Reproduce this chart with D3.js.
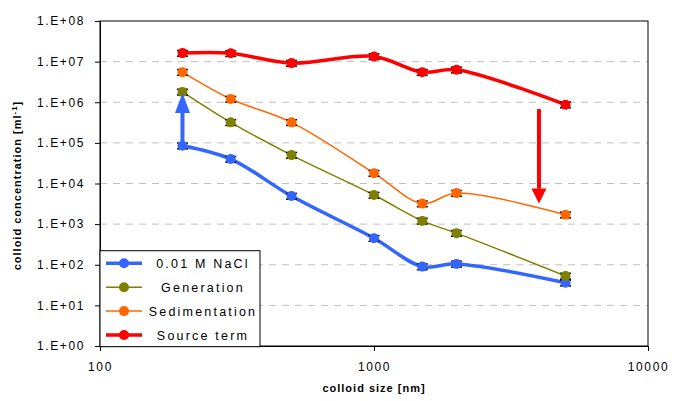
<!DOCTYPE html>
<html>
<head>
<meta charset="utf-8">
<script src="https://cdn.jsdelivr.net/npm/d3@7"></script>
<style>
  body { margin: 0; background: #fff; }
  svg { display: block; font-family: "Liberation Sans", Arial, sans-serif; }
  .tick-label { font-size: 12px; letter-spacing: 1.6px; fill: #000; }
  .axis-title { font-size: 11px; font-weight: bold; letter-spacing: 1px; fill: #000; }
  .legend-label { font-size: 12.5px; letter-spacing: 2.2px; fill: #000; }
</style>
</head>
<body>
<svg id="chart" width="673" height="401"></svg>
<script>
// colloid sizes [nm]
const sizes = [200, 300, 500, 1000, 1500, 2000, 5000];

// colloid concentration [ml-1] for each series
const nacl = [8.5e4, 4.0e4, 4.9e3, 4.5e2, 90, 105, 36];
const generation = [1.8e6, 3.2e5, 5.0e4, 5.2e3, 1.2e3, 6.0e2, 53];
const sedimentation = [5.5e6, 1.2e6, 3.2e5, 1.8e4, 3.2e3, 5.8e3, 1.7e3];
const sourceTerm = [1.62e7, 1.6e7, 9.2e6, 1.34e7, 5.5e6, 6.3e6, 8.7e5];

const seriesNames = ["0.01 M NaCl", "Generation", "Sedimentation", "Source term"];
const seriesColors = ["#3366ff", "#808000", "#ff6600", "#ff0000"];
const seriesWidths = [3.5, 1.5, 1.5, 3.5];

// relative size of the error bars
const errFrac = 0.16;

const xTicks = [100, 1000, 10000];
const yTicks = [1e0, 1e1, 1e2, 1e3, 1e4, 1e5, 1e6, 1e7, 1e8];

// arrows: x, start and end value in data units
const arrows = [
    { x: 200, from: 1.0e5, to: 1.7e6, color: "#3366ff" },
    { x: 4000, from: 6.8e5, to: 3.2e3, color: "#ff0000" }
];

const plot = { left: 100, right: 648, top: 21, bottom: 346 };

const svg = d3.select("#chart");

const xScale = d3.scaleLog()
    .domain([100, 10000])
    .range([plot.left, plot.right]);

const yScale = d3.scaleLog()
    .domain([1, 1e8])
    .range([plot.bottom, plot.top]);

// dashed grid lines
svg.append("g")
    .selectAll("line")
    .data(yTicks.slice(1, -1))
    .join("line")
    .attr("x1", plot.left)
    .attr("x2", plot.right)
    .attr("y1", d => yScale(d))
    .attr("y2", d => yScale(d))
    .attr("stroke", "#c0c0c0")
    .attr("stroke-width", 1)
    .attr("stroke-dasharray", "7,6");

// plot frame
svg.append("rect")
    .attr("x", plot.left)
    .attr("y", plot.top)
    .attr("width", plot.right - plot.left)
    .attr("height", plot.bottom - plot.top)
    .attr("fill", "none")
    .attr("stroke", "#000")
    .attr("stroke-width", 1);

// axes
const yAxis = d3.axisLeft(yScale)
    .tickValues(yTicks)
    .tickSize(5)
    .tickPadding(10)
    .tickFormat(d => "1.E+" + String(Math.round(Math.log10(d))).padStart(2, "0"));

const xAxis = d3.axisBottom(xScale)
    .tickValues(xTicks)
    .tickSize(5)
    .tickPadding(11)
    .tickFormat(d3.format("d"));

const gy = svg.append("g")
    .attr("transform", `translate(${plot.left},0)`)
    .call(yAxis);

const gx = svg.append("g")
    .attr("transform", `translate(0,${plot.bottom})`)
    .call(xAxis);

[gx, gy].forEach(g => {
    g.select(".domain").attr("stroke", "#000");
    g.selectAll(".tick line").attr("stroke", "#000");
    g.selectAll(".tick text")
        .attr("class", "tick-label")
        .attr("font-family", null)
        .attr("font-size", null);
});

// axis titles
svg.append("text")
    .attr("class", "axis-title")
    .attr("x", (plot.left + plot.right) / 2)
    .attr("y", 392)
    .attr("text-anchor", "middle")
    .text("colloid size [nm]");

const yTitle = svg.append("text")
    .attr("class", "axis-title")
    .attr("transform", `translate(21,${(plot.top + plot.bottom) / 2 + 2}) rotate(-90)`)
    .attr("text-anchor", "middle");
yTitle.append("tspan").text("colloid concentration [ml");
yTitle.append("tspan").attr("dy", -4).attr("font-size", "8px").text("-1");
yTitle.append("tspan").attr("dy", 4).text("]");

// series
const allSeries = [nacl, generation, sedimentation, sourceTerm].map((vals, i) => ({
    name: seriesNames[i],
    color: seriesColors[i],
    width: seriesWidths[i],
    points: sizes.map((s, j) => ({ x: s, y: vals[j] }))
}));

const line = d3.line()
    .x(d => xScale(d.x))
    .y(d => yScale(d.y))
    .curve(d3.curveCatmullRom.alpha(0.5));

const seriesG = svg.append("g")
    .selectAll("g")
    .data(allSeries)
    .join("g");

seriesG.append("path")
    .attr("d", d => line(d.points))
    .attr("fill", "none")
    .attr("stroke", d => d.color)
    .attr("stroke-width", d => d.width)
    .attr("stroke-linejoin", "round");

// error bars (mostly hidden behind the markers)
const errG = seriesG.selectAll(".err")
    .data(d => d.points)
    .join("g")
    .attr("class", "err");

[1 - errFrac, 1 + errFrac].forEach(f => {
    errG.append("line")
        .attr("x1", d => xScale(d.x) - 5.5)
        .attr("x2", d => xScale(d.x) + 5.5)
        .attr("y1", d => yScale(d.y * f))
        .attr("y2", d => yScale(d.y * f))
        .attr("stroke", "#000")
        .attr("stroke-width", 1.5);
});

seriesG.selectAll(".marker")
    .data(d => d.points.map(p => ({ ...p, color: d.color })))
    .join("circle")
    .attr("class", "marker")
    .attr("cx", d => xScale(d.x))
    .attr("cy", d => yScale(d.y))
    .attr("r", 5)
    .attr("fill", d => d.color);

// arrows
arrows.forEach(a => {
    const x = xScale(a.x);
    const y0 = yScale(a.from);
    const y1 = yScale(a.to);
    const dir = y1 < y0 ? 1 : -1;
    const headLen = dir > 0 ? 20 : 15;
    const headHalf = 7.5;
    svg.append("line")
        .attr("x1", x)
        .attr("x2", x)
        .attr("y1", y0)
        .attr("y2", y1 + dir * headLen)
        .attr("stroke", a.color)
        .attr("stroke-width", 4);
    svg.append("path")
        .attr("d", `M${x},${y1} L${x - headHalf},${y1 + dir * headLen} L${x + headHalf},${y1 + dir * headLen} Z`)
        .attr("fill", a.color);
});

// legend
const legendBox = { x: plot.left, y: 250.7, w: 160, h: 96 };

const legendG = svg.append("g");

legendG.append("rect")
    .attr("x", legendBox.x)
    .attr("y", legendBox.y)
    .attr("width", legendBox.w)
    .attr("height", legendBox.h)
    .attr("fill", "#fff")
    .attr("stroke", "#000");

const items = legendG.selectAll(".legend-item")
    .data(allSeries)
    .join("g")
    .attr("class", "legend-item")
    .attr("transform", (d, i) => `translate(0, ${263.3 + i * 23.9})`);

items.append("line")
    .attr("x1", 106)
    .attr("x2", 142)
    .attr("stroke", d => d.color)
    .attr("stroke-width", d => d.width);

items.append("circle")
    .attr("cx", 124)
    .attr("r", 5)
    .attr("fill", d => d.color);

items.append("text")
    .attr("class", "legend-label")
    .attr("x", 203)
    .attr("y", 4.5)
    .attr("text-anchor", "middle")
    .text(d => d.name);
</script>
</body>
</html>
